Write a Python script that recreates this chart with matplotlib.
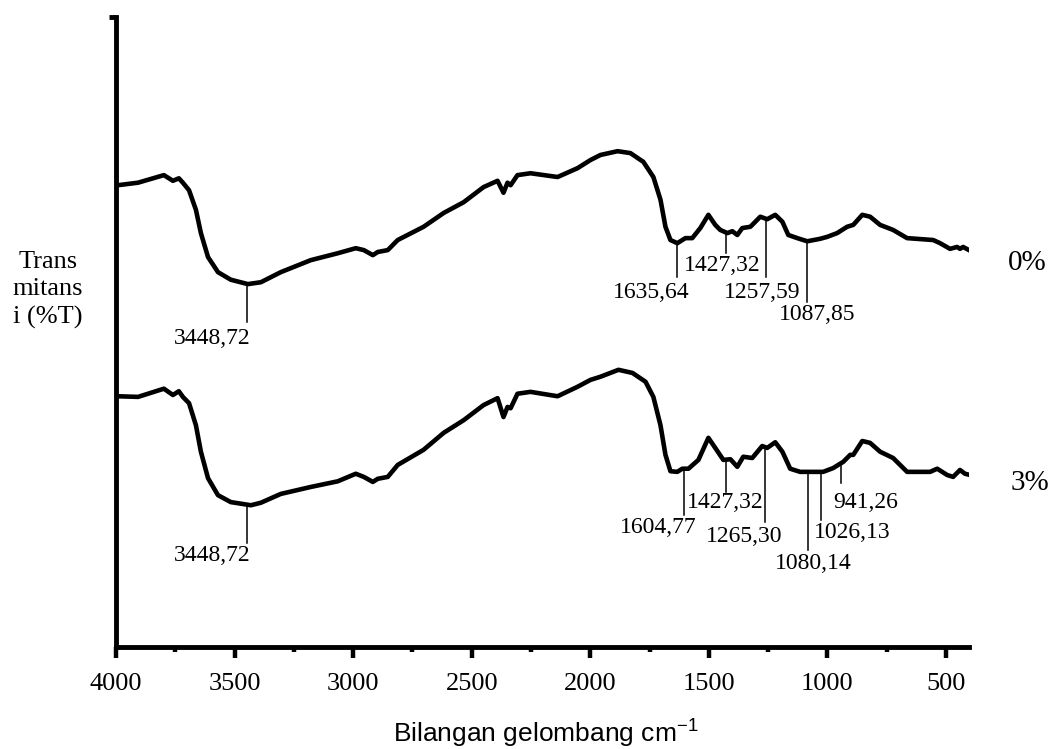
import numpy as np
import matplotlib.pyplot as plt
from matplotlib.ticker import MultipleLocator

plt.rcParams['font.family'] = ['Liberation Serif', 'DejaVu Serif']

# ---- spectra (wavenumber cm-1, transmittance a.u.) ----
wn_0 = [3992, 3907, 3798, 3760, 3735, 3718, 3692, 3663, 3642, 3612, 3570, 3516,
        3444, 3389, 3305, 3179, 3065, 2989, 2955, 2917, 2896, 2854, 2812, 2703,
        2618, 2534, 2450, 2391, 2366, 2349, 2336, 2307, 2252, 2138, 2054, 1999,
        1957, 1885, 1831, 1776, 1734, 1704, 1683, 1662, 1633, 1599, 1570, 1536,
        1502, 1473, 1452, 1422, 1401, 1380, 1359, 1325, 1283, 1254, 1220, 1190,
        1165, 1127, 1085, 1030, 1001, 959, 917, 891, 853, 820, 778, 723, 664,
        554, 525, 483, 453, 441, 428, 398]
t_0 = [73.3, 73.7, 74.9, 74.0, 74.4, 73.7, 72.5, 69.4, 65.7, 61.9, 59.5, 58.3,
       57.6, 57.9, 59.5, 61.4, 62.5, 63.3, 63.0, 62.2, 62.7, 63.0, 64.6, 66.7,
       68.9, 70.6, 73.0, 74.0, 72.1, 73.7, 73.3, 74.9, 75.2, 74.6, 76.0, 77.3,
       78.1, 78.7, 78.4, 77.0, 74.6, 71.0, 66.7, 64.6, 64.1, 64.9, 64.9, 66.5,
       68.6, 67.0, 66.2, 65.7, 66.0, 65.4, 66.5, 66.7, 68.3, 67.9, 68.6, 67.5,
       65.4, 64.9, 64.4, 64.8, 65.1, 65.7, 66.7, 67.0, 68.6, 68.3, 67.0, 66.2,
       64.9, 64.6, 64.1, 63.2, 63.5, 63.2, 63.5, 62.9]

wn_3 = [3992, 3907, 3798, 3760, 3735, 3718, 3692, 3663, 3642, 3612, 3570, 3516,
        3431, 3389, 3305, 3179, 3065, 2989, 2955, 2917, 2896, 2854, 2812, 2703,
        2618, 2534, 2450, 2391, 2366, 2349, 2336, 2307, 2252, 2138, 2054, 1999,
        1957, 1881, 1822, 1767, 1734, 1704, 1683, 1662, 1633, 1612, 1586, 1544,
        1502, 1473, 1439, 1409, 1380, 1355, 1317, 1275, 1254, 1220, 1190, 1157,
        1115, 1072, 1018, 976, 933, 904, 891, 853, 820, 778, 723, 664, 567, 537,
        495, 470, 441, 420, 398]
t_3 = [39.8, 39.7, 41.0, 40.0, 40.6, 39.7, 38.7, 35.2, 31.0, 26.8, 24.1, 23.0,
       22.5, 22.9, 24.3, 25.4, 26.3, 27.5, 27.0, 26.2, 26.7, 27.0, 28.9, 31.3,
       34.0, 36.0, 38.4, 39.5, 36.5, 38.1, 37.9, 40.2, 40.5, 39.8, 41.3, 42.4,
       42.9, 44.0, 43.5, 42.1, 39.7, 35.2, 30.5, 27.9, 27.8, 28.3, 28.3, 29.7,
       33.2, 31.6, 29.7, 29.8, 28.6, 30.2, 30.0, 31.9, 31.6, 32.5, 31.0, 28.3,
       27.8, 27.8, 27.8, 28.4, 29.4, 30.5, 30.5, 32.7, 32.4, 31.0, 30.0, 27.8,
       27.8, 28.3, 27.3, 27.0, 28.1, 27.5, 27.3]

# ---- peak labels ----
pk0_wn = [3448.72, 1635.64, 1427.32, 1257.59, 1087.85]
pk0_lab = ['3448,72', '1635,64', '1427,32', '1257,59', '1087,85']
pk0_end = [51.6, 58.7, 62.5, 58.7, 54.8]
pk0_tx = [3596, 1742, 1443, 1275, 1043]
pk0_ty = [49.0, 56.3, 60.6, 56.3, 52.7]

pk3_wn = [3448.72, 1604.77, 1427.32, 1265.30, 1080.14, 1026.13, 941.26]
pk3_lab = ['3448,72', '1604,77', '1427,32', '1265,30', '1080,14', '1026,13', '941,26']
pk3_end = [16.5, 21.0, 24.6, 19.8, 15.4, 20.2, 26.0]
pk3_tx = [3596, 1713, 1430, 1350, 1060, 896, 837]
pk3_ty = [14.6, 18.9, 23.0, 17.5, 13.3, 18.1, 23.0]

fig = plt.figure(figsize=(10.54, 7.49), dpi=100)
ax = fig.add_axes([116/1054, 1-647/749, (969-116)/1054, (647-17)/749])

ax.plot(wn_0, t_0, color='black', lw=3.3, solid_joinstyle='round', solid_capstyle='round')
ax.plot(wn_3, t_3, color='black', lw=3.3, solid_joinstyle='round', solid_capstyle='round')

for wns, ts, wl, lab, end, tx, ty in [(wn_0, t_0, pk0_wn, pk0_lab, pk0_end, pk0_tx, pk0_ty),
                                      (wn_3, t_3, pk3_wn, pk3_lab, pk3_end, pk3_tx, pk3_ty)]:
    for w, l, e, x, y in zip(wl, lab, end, tx, ty):
        top = np.interp(w, wns[::-1], ts[::-1])
        ax.plot([w, w], [top, e], color='black', lw=1.1)
        ax.text(x, y, l, fontsize=17, ha='center', va='center')

ax.text(158, 61.0, '0%', fontsize=21, ha='center', va='center', clip_on=False)
ax.text(146, 26.0, '3%', fontsize=21, ha='center', va='center', clip_on=False)

ax.set_xlim(4000, 403)
ax.set_ylim(0, 100)
ax.xaxis.set_major_locator(MultipleLocator(500))
ax.xaxis.set_minor_locator(MultipleLocator(250))
ax.set_yticks([100])
ax.set_yticklabels([])
ax.tick_params(axis='x', which='major', direction='out', length=8, width=3.2,
               labelsize=19, pad=11)
ax.tick_params(axis='x', which='minor', direction='out', length=3.5, width=3.2)
ax.tick_params(axis='y', direction='out', length=5, width=3.5)
for s in ['top', 'right']:
    ax.spines[s].set_visible(False)
for s in ['left', 'bottom']:
    ax.spines[s].set_linewidth(3.5)

fig.text(48/1054, 1-290/749, 'Trans\nmitans\ni (%T)', fontsize=19,
         ha='center', va='center', multialignment='center', linespacing=1.3)
fig.text(546/1054, 1-742/749, r'Bilangan gelombang cm$^{\mathregular{-1}}$',
         fontsize=19, family='Liberation Sans', ha='center', va='baseline')

fig.savefig('out.png', dpi=100)
